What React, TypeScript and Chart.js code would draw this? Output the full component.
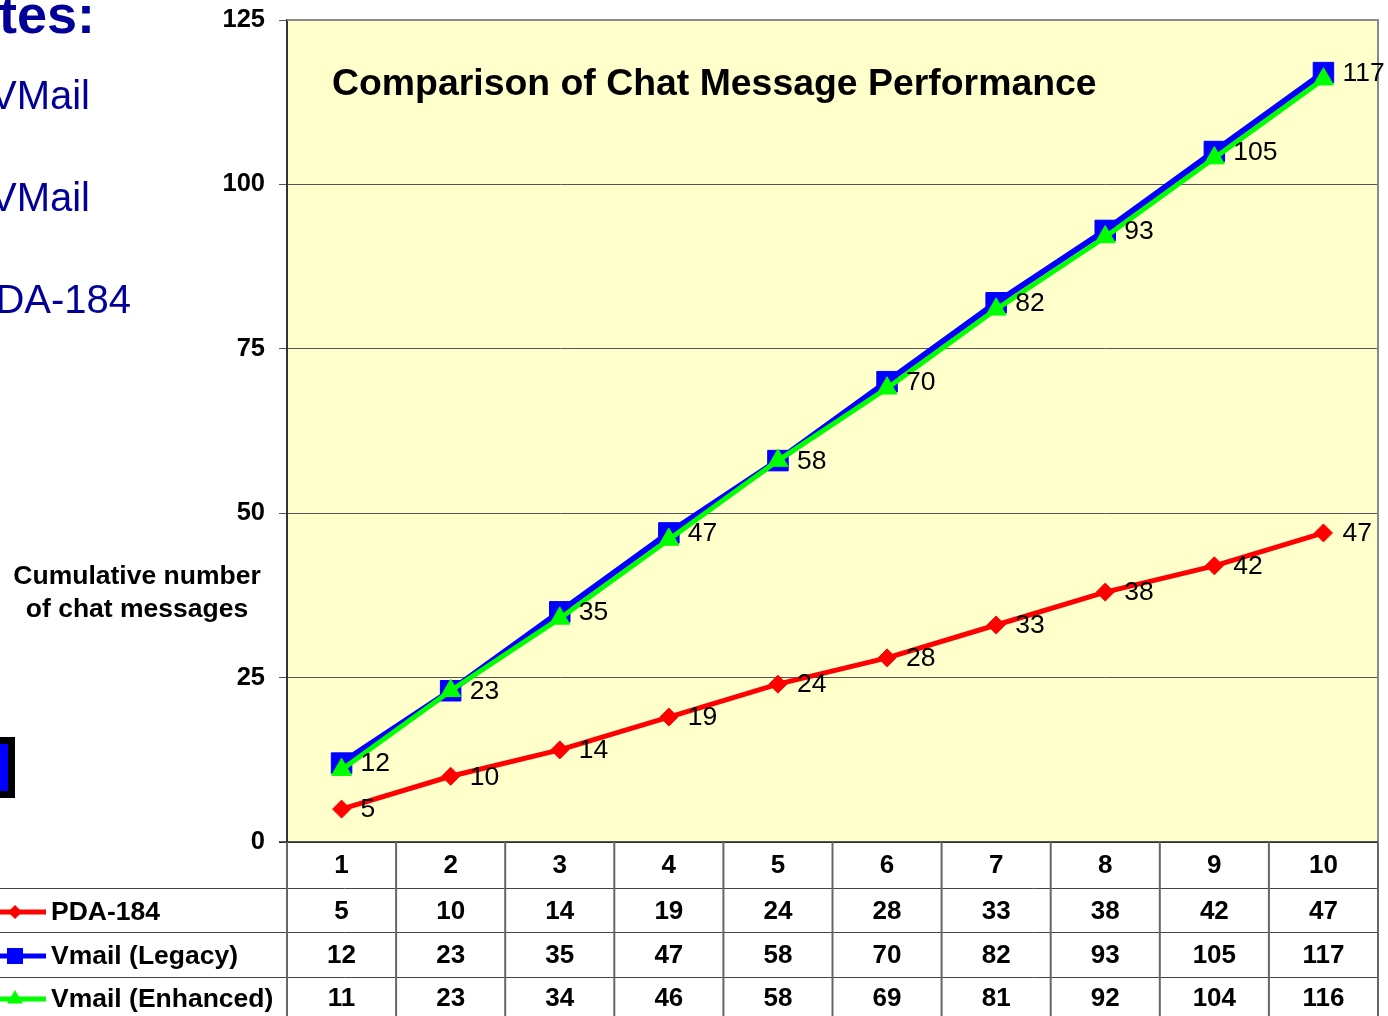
import React, { useEffect, useRef } from 'react';
import { Chart, registerables } from 'chart.js';

Chart.register(...registerables);

// ---- data ----
const categories = ['1', '2', '3', '4', '5', '6', '7', '8', '9', '10'];
const pda184 = [5, 10, 14, 19, 24, 28, 33, 38, 42, 47];
const vmailLegacy = [12, 23, 35, 47, 58, 70, 82, 93, 105, 117];
const vmailEnhanced = [11, 23, 34, 46, 58, 69, 81, 92, 104, 116];
const seriesNames = ['PDA-184', 'Vmail (Legacy)', 'Vmail (Enhanced)'];
const yMin = 0;
const yMax = 125;
const yStep = 25;
const chartTitle = 'Comparison of Chat Message Performance';
const yAxisTitle = ['Cumulative number', 'of chat messages'];
const slideHeading = 'tes:';
const slideLines = ['VMail', 'VMail', 'DA-184'];

const FONT = "'Liberation Sans', Arial, Helvetica, sans-serif";
const W = 1388;
const H = 1016;

const seriesStyles = [
  { color: '#FF0000', pointStyle: 'rectRot', radius: 9, width: 5 },
  { color: '#0000FF', pointStyle: 'rect', radius: 14.5, width: 6 },
  { color: '#00FF00', pointStyle: 'triangle', radius: 11.5, width: 5 },
];

function drawMarker(ctx: CanvasRenderingContext2D, style: string, x: number, y: number, r: number, color: string) {
  ctx.save();
  ctx.fillStyle = color;
  ctx.beginPath();
  if (style === 'rect') {
    const s = r;
    ctx.rect(x - s, y - s, 2 * s, 2 * s);
  } else if (style === 'rectRot') {
    ctx.moveTo(x - r, y);
    ctx.lineTo(x, y - r);
    ctx.lineTo(x + r, y);
    ctx.lineTo(x, y + r);
    ctx.closePath();
  } else {
    ctx.moveTo(x, y - r);
    ctx.lineTo(x + r * 0.866, y + r * 0.5);
    ctx.lineTo(x - r * 0.866, y + r * 0.5);
    ctx.closePath();
  }
  ctx.fill();
  ctx.restore();
}

const decorPlugin = {
  id: 'decor',
  beforeDraw(chart: any) {
    const { ctx, chartArea: a } = chart;
    ctx.save();
    ctx.fillStyle = '#FFFFCC';
    ctx.fillRect(a.left, a.top, a.right - a.left, a.bottom - a.top);
    ctx.restore();
  },
  afterDraw(chart: any) {
    const { ctx, chartArea: a } = chart;
    const xs = chart.scales.x;
    ctx.save();

    // plot border
    ctx.strokeStyle = '#8a8a8a';
    ctx.lineWidth = 2;
    ctx.beginPath();
    ctx.moveTo(a.left, a.top);
    ctx.lineTo(a.right, a.top);
    ctx.lineTo(a.right, a.bottom);
    ctx.stroke();
    ctx.strokeStyle = '#222';
    ctx.lineWidth = 1.5;
    ctx.beginPath();
    ctx.moveTo(a.left - 8, a.bottom);
    ctx.lineTo(a.right, a.bottom);
    ctx.stroke();

    // data table
    const centers = categories.map((_, i) => xs.getPixelForValue(i));
    const half = (centers[1] - centers[0]) / 2;
    const rowLines = [888, 932, 977];
    const rowCenters = [866, 912, 956, 999];
    ctx.strokeStyle = '#444';
    ctx.lineWidth = 1;
    rowLines.forEach((y) => {
      ctx.beginPath();
      ctx.moveTo(0, y + 0.5);
      ctx.lineTo(a.right, y + 0.5);
      ctx.stroke();
    });
    ctx.strokeStyle = '#666';
    ctx.lineWidth = 2;
    const bounds = centers.map((c) => c - half).concat([centers[centers.length - 1] + half]);
    bounds.forEach((x) => {
      ctx.beginPath();
      ctx.moveTo(x, a.bottom);
      ctx.lineTo(x, H);
      ctx.stroke();
    });

    ctx.fillStyle = '#000';
    ctx.font = `bold 26px ${FONT}`;
    ctx.textAlign = 'center';
    ctx.textBaseline = 'middle';
    categories.forEach((c, i) => ctx.fillText(c, centers[i], rowCenters[0]));
    const allSeries = [pda184, vmailLegacy, vmailEnhanced];
    allSeries.forEach((vals, r) => {
      vals.forEach((v, i) => ctx.fillText(String(v), centers[i], rowCenters[r + 1]));
    });

    // legend keys in table
    allSeries.forEach((_, r) => {
      const st = seriesStyles[r];
      const y = rowCenters[r + 1];
      ctx.strokeStyle = st.color;
      ctx.lineWidth = 5;
      ctx.beginPath();
      ctx.moveTo(0, y);
      ctx.lineTo(46, y);
      ctx.stroke();
      const mr = r === 0 ? 7 : r === 1 ? 8 : 9;
      drawMarker(ctx, st.pointStyle, 15, y, mr, st.color);
      ctx.fillStyle = '#000';
      ctx.font = `bold 26.5px ${FONT}`;
      ctx.textAlign = 'left';
      ctx.fillText(seriesNames[r], 51, y + 1);
    });

    // data labels (PDA-184 and Vmail Legacy)
    ctx.font = `26.5px ${FONT}`;
    ctx.fillStyle = '#000';
    ctx.textAlign = 'left';
    ctx.textBaseline = 'middle';
    [0, 1].forEach((di) => {
      const meta = chart.getDatasetMeta(di);
      const vals = chart.data.datasets[di].data;
      meta.data.forEach((pt: any, i: number) => {
        ctx.fillText(String(vals[i]), pt.x + 19, pt.y + 1);
      });
    });

    // title
    ctx.font = `bold 37.4px ${FONT}`;
    ctx.textAlign = 'left';
    ctx.fillText(chartTitle, a.left + 45, 85);

    // y axis title
    ctx.font = `bold 26.5px ${FONT}`;
    ctx.textAlign = 'center';
    ctx.fillText(yAxisTitle[0], 137, 577);
    ctx.fillText(yAxisTitle[1], 137, 610);

    // slide text on the left
    ctx.fillStyle = '#000099';
    ctx.textBaseline = 'alphabetic';
    ctx.textAlign = 'right';
    ctx.font = `bold 54px ${FONT}`;
    ctx.fillText(slideHeading, 95, 33);
    ctx.font = `40px ${FONT}`;
    ctx.fillText(slideLines[0], 90, 109);
    ctx.fillText(slideLines[1], 90, 211);
    ctx.fillText(slideLines[2], 131, 313);

    // small boxed blue shape at left edge
    ctx.fillStyle = '#000';
    ctx.fillRect(0, 737, 15, 61);
    ctx.fillStyle = '#0000FF';
    ctx.fillRect(0, 744, 8, 47);

    ctx.restore();
  },
};

export default function App() {
  const ref = useRef<HTMLCanvasElement | null>(null);
  useEffect(() => {
    if (!ref.current) return;
    const data = [pda184, vmailLegacy, vmailEnhanced];
    const chart = new Chart(ref.current, {
      type: 'line',
      data: {
        labels: categories,
        datasets: data.map((vals, i) => ({
          label: seriesNames[i],
          data: vals,
          borderColor: seriesStyles[i].color,
          backgroundColor: seriesStyles[i].color,
          borderWidth: seriesStyles[i].width,
          pointStyle: seriesStyles[i].pointStyle as any,
          pointRadius: seriesStyles[i].radius,
          pointBorderWidth: 1,
          pointBorderColor: seriesStyles[i].color,
          pointBackgroundColor: seriesStyles[i].color,
          tension: 0,
          fill: false,
          clip: false,
          order: i === 0 ? 2 : i === 1 ? 1 : 0,
        })),
      },
      options: {
        responsive: false,
        animation: false,
        devicePixelRatio: 1,
        layout: { autoPadding: false, padding: { left: 0, right: 10, top: 20, bottom: 174 } },
        plugins: {
          legend: { display: false },
          tooltip: { enabled: false },
          title: { display: false },
        },
        scales: {
          x: {
            type: 'category',
            display: false,
            offset: true,
          },
          y: {
            min: yMin,
            max: yMax,
            afterFit: (scale: any) => {
              scale.width = 287;
            },
            ticks: {
              stepSize: yStep,
              color: '#000',
              font: { family: FONT, size: 25.5, weight: 'bold', lineHeight: 0.4 },
              padding: 14,
            },
            grid: {
              color: '#555',
              lineWidth: 1,
              tickLength: 8,
              drawTicks: true,
            },
            border: { display: true, color: '#333', width: 2 },
          },
        },
      },
      plugins: [decorPlugin],
    } as any);
    return () => chart.destroy();
  }, []);

  return (
    <div style={{ position: 'absolute', left: 0, top: 0, width: W, height: H, background: '#fff' }}>
      <canvas ref={ref} width={W} height={H} style={{ display: 'block', width: W, height: H }} />
    </div>
  );
}
